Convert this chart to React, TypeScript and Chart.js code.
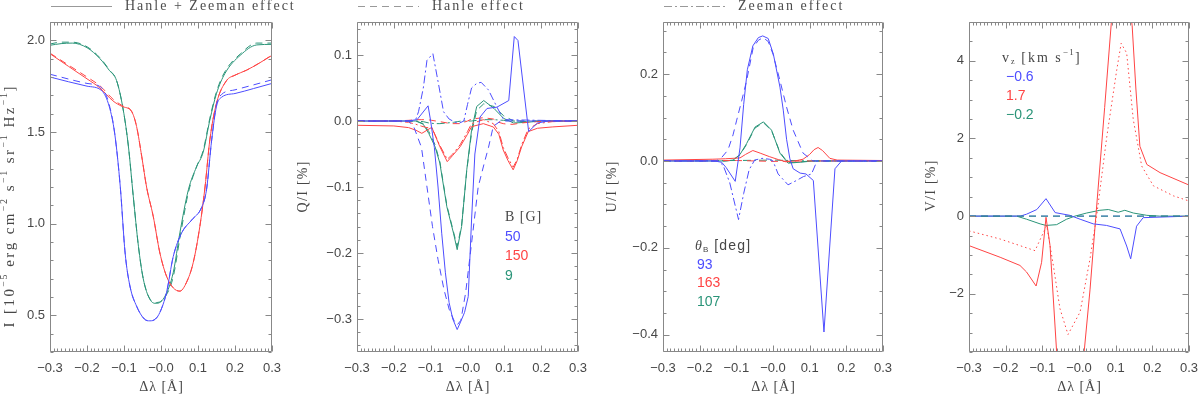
import { useEffect, useRef } from 'react';
import { Chart, registerables } from 'chart.js';

Chart.register(...registerables);

// ---------- common axis data ----------
const X_TICKS = [-0.3, -0.2, -0.1, 0, 0.1, 0.2, 0.3];
const X_TICK_LABELS = ['−0.3', '−0.2', '−0.1', '−0.0', '0.1', '0.2', '0.3'];

const I_TICKS = [0.5, 1.0, 1.5, 2.0];
const I_TICK_LABELS = ['0.5', '1.0', '1.5', '2.0'];
const Q_TICKS = [-0.3, -0.2, -0.1, 0, 0.1];
const Q_TICK_LABELS = ['−0.3', '−0.2', '−0.1', '0.0', '0.1'];
const U_TICKS = [-0.4, -0.2, 0, 0.2];
const U_TICK_LABELS = ['−0.4', '−0.2', '0.0', '0.2'];
const V_TICKS = [-2, 0, 2, 4];
const V_TICK_LABELS = ['−2', '0', '2', '4'];

// ---------- Panel 1: I ----------
const I_BLUE_X = [-0.30, -0.20, -0.16, -0.14, -0.125, -0.11, -0.097, -0.084, -0.066, -0.045, -0.03, -0.015, -0.003, 0.015, 0.033, 0.056, 0.083, 0.11, 0.123, 0.137, 0.15, 0.164, 0.20, 0.25, 0.30];
const I_BLUE_SOLID = [1.80, 1.75, 1.725, 1.64, 1.49, 1.20, 0.84, 0.66, 0.55, 0.48, 0.47, 0.48, 0.516, 0.625, 0.82, 0.95, 1.02, 1.09, 1.185, 1.457, 1.64, 1.69, 1.71, 1.737, 1.765];
const I_BLUE_DASH = [1.815, 1.765, 1.74, 1.65, 1.49, 1.20, 0.84, 0.66, 0.55, 0.48, 0.47, 0.48, 0.516, 0.625, 0.82, 0.95, 1.02, 1.09, 1.185, 1.457, 1.65, 1.705, 1.73, 1.757, 1.785];

const I_RED_X = [-0.30, -0.25, -0.20, -0.165, -0.13, -0.106, -0.079, -0.066, -0.052, -0.039, -0.021, -0.003, 0.015, 0.033, 0.051, 0.069, 0.087, 0.105, 0.119, 0.132, 0.15, 0.177, 0.20, 0.231, 0.265, 0.30];
const I_RED_SOLID = [1.927, 1.858, 1.79, 1.74, 1.67, 1.64, 1.61, 1.53, 1.366, 1.20, 1.04, 0.84, 0.713, 0.65, 0.632, 0.68, 0.787, 0.985, 1.20, 1.457, 1.657, 1.78, 1.81, 1.837, 1.875, 1.918];
const I_RED_DASH = [1.93, 1.865, 1.80, 1.752, 1.68, 1.645, 1.612, 1.53, 1.366, 1.20, 1.04, 0.84, 0.713, 0.65, 0.632, 0.68, 0.787, 0.985, 1.20, 1.457, 1.657, 1.78, 1.81, 1.837, 1.875, 1.92];

const I_GREEN_X = [-0.30, -0.27, -0.24, -0.20, -0.165, -0.14, -0.12, -0.102, -0.088, -0.075, -0.061, -0.048, -0.03, -0.012, 0.011, 0.033, 0.051, 0.074, 0.096, 0.114, 0.132, 0.15, 0.173, 0.214, 0.259, 0.30];
const I_GREEN_SOLID = [1.973, 1.982, 1.985, 1.96, 1.90, 1.837, 1.78, 1.62, 1.42, 1.15, 0.877, 0.70, 0.587, 0.565, 0.605, 0.733, 0.95, 1.185, 1.31, 1.39, 1.565, 1.71, 1.82, 1.918, 1.975, 1.978];
const I_GREEN_DASH = [1.98, 1.99, 1.99, 1.965, 1.905, 1.84, 1.78, 1.62, 1.42, 1.15, 0.877, 0.70, 0.59, 0.57, 0.60, 0.71, 0.92, 1.17, 1.31, 1.40, 1.575, 1.72, 1.83, 1.925, 1.985, 1.985];

// ---------- Panel 2: Q/I ----------
const Q_BLUE_SOLID_X = [-0.30, -0.165, -0.137, -0.107, -0.10, -0.09, -0.08, -0.07, -0.06, -0.05, -0.04, -0.028, -0.02, -0.008, 0.002, 0.011, 0.02, 0.034, 0.053, 0.08, 0.112, 0.127, 0.137, 0.166, 0.19, 0.22, 0.30];
const Q_BLUE_SOLID = [0, 0, 0.002, 0.023, 0.0, -0.04, -0.10, -0.17, -0.23, -0.275, -0.30, -0.316, -0.306, -0.29, -0.266, -0.15, -0.05, 0.006, 0.019, 0.021, 0.031, 0.128, 0.122, -0.016, -0.003, 0, 0];
const Q_BLUE_DASH_X = [-0.30, -0.16, -0.145, -0.125, -0.11, -0.095, -0.08, -0.064, -0.05, -0.036, -0.028, -0.018, -0.005, 0.01, 0.029, 0.045, 0.057, 0.07, 0.09, 0.30];
const Q_BLUE_DASH = [0, 0, -0.01, -0.04, -0.10, -0.16, -0.21, -0.255, -0.285, -0.303, -0.309, -0.302, -0.26, -0.19, -0.10, -0.065, -0.04, -0.008, 0, 0];
const Q_BLUE_DOT_X = [-0.30, -0.15, -0.14, -0.133, -0.12, -0.11, -0.094, -0.08, -0.065, -0.05, -0.04, -0.025, -0.01, 0.0, 0.011, 0.025, 0.037, 0.057, 0.08, 0.098, 0.30];
const Q_BLUE_DOT = [0, 0, 0.003, 0.014, 0.05, 0.092, 0.102, 0.06, 0.014, 0.003, 0, -0.004, 0, 0.025, 0.05, 0.057, 0.0586, 0.047, 0.021, 0.002, 0];

const Q_RED_X = [-0.30, -0.20, -0.16, -0.14, -0.124, -0.11, -0.097, -0.075, -0.055, -0.04, -0.02, 0.0, 0.011, 0.043, 0.07, 0.085, 0.097, 0.11, 0.124, 0.135, 0.147, 0.165, 0.19, 0.23, 0.30];
const Q_RED_SOLID = [-0.0065, -0.0075, -0.01, -0.014, -0.0187, -0.014, -0.0096, -0.039, -0.0616, -0.052, -0.039, -0.02, -0.0086, -0.004, -0.009, -0.02, -0.044, -0.06, -0.074, -0.06, -0.039, -0.016, -0.011, -0.009, -0.0065];
const Q_RED_DASH = [0, 0, 0.001, 0.002, 0.002, 0.002, 0.001, -0.001, -0.003, -0.004, -0.004, 0.0, 0.003, 0.005, 0.003, -0.002, -0.004, -0.005, -0.005, -0.004, -0.003, -0.002, -0.001, 0, 0];
const Q_RED_DOT = [0, 0, -0.002, -0.005, -0.008, -0.01, -0.01, -0.037, -0.058, -0.05, -0.036, -0.016, -0.004, 0.002, -0.004, -0.016, -0.04, -0.056, -0.07, -0.058, -0.036, -0.012, -0.004, -0.001, 0];

const Q_GREEN_X = [-0.30, -0.14, -0.12, -0.105, -0.088, -0.075, -0.056, -0.038, -0.028, -0.016, -0.002, 0.011, 0.025, 0.044, 0.072, 0.098, 0.125, 0.16, 0.20, 0.30];
const Q_GREEN_SOLID = [0, 0, -0.005, -0.019, -0.039, -0.064, -0.13, -0.17, -0.195, -0.16, -0.074, -0.014, 0.022, 0.031, 0.019, 0.004, -0.003, -0.002, 0, 0];
const Q_GREEN_DASH = [0, 0, -0.004, -0.016, -0.036, -0.062, -0.128, -0.168, -0.19, -0.158, -0.075, -0.018, 0.016, 0.026, 0.022, 0.008, 0.0, -0.001, 0, 0];
const Q_GREEN_DOT = [0, 0, -0.001, -0.003, -0.004, -0.004, -0.003, -0.002, -0.001, 0.0, 0.0, 0.0, 0.001, 0.002, 0.002, 0.001, 0.0, 0, 0, 0];

// ---------- Panel 3: U/I ----------
const U_BLUE_SOLID_X = [-0.30, -0.16, -0.14, -0.128, -0.103, -0.09, -0.08, -0.07, -0.055, -0.04, -0.028, -0.013, 0.001, 0.019, 0.028, 0.037, 0.046, 0.055, 0.074, 0.09, 0.11, 0.139, 0.169, 0.187, 0.30];
const U_BLUE_SOLID = [0, 0, -0.003, -0.015, -0.047, 0.03, 0.13, 0.21, 0.265, 0.284, 0.288, 0.282, 0.246, 0.17, 0.117, 0.05, 0.005, -0.018, -0.028, -0.03, -0.045, -0.394, -0.018, 0, 0];
const U_BLUE_DASH_X = [-0.30, -0.155, -0.14, -0.123, -0.109, -0.099, -0.085, -0.072, -0.054, -0.04, -0.027, -0.013, 0.0, 0.019, 0.037, 0.055, 0.082, 0.109, 0.30];
const U_BLUE_DASH = [0, 0, 0.008, 0.025, 0.06, 0.094, 0.14, 0.185, 0.261, 0.278, 0.284, 0.275, 0.246, 0.185, 0.124, 0.071, 0.018, 0, 0];
const U_BLUE_DOT_X = [-0.30, -0.15, -0.136, -0.118, -0.094, -0.08, -0.065, -0.05, -0.03, -0.01, 0.0, 0.014, 0.041, 0.064, 0.083, 0.105, 0.12, 0.30];
const U_BLUE_DOT = [0, 0, -0.01, -0.05, -0.135, -0.075, -0.02, 0.002, 0.006, 0.004, 0.0, -0.03, -0.055, -0.045, -0.036, -0.03, 0, 0];

const U_RED_X = [-0.30, -0.164, -0.13, -0.109, -0.09, -0.075, -0.055, -0.035, -0.01, 0.015, 0.035, 0.06, 0.082, 0.1, 0.112, 0.123, 0.135, 0.155, 0.175, 0.30];
const U_RED_SOLID = [0.002, 0.004, 0.005, 0.006, 0.007, 0.015, 0.024, 0.018, 0.01, 0.003, -0.002, 0.0, 0.004, 0.015, 0.026, 0.031, 0.024, 0.006, 0.002, 0.001];
const U_FLAT_X = [-0.30, -0.10, 0.0, 0.10, 0.30];
const U_RED_DASH = [0, 0.001, -0.001, 0.0, 0];
const U_GREEN_DOT = [0, 0.001, 0.002, 0.0, 0];

const U_GREEN_X = [-0.30, -0.13, -0.109, -0.09, -0.072, -0.049, -0.026, -0.004, 0.019, 0.041, 0.074, 0.11, 0.30];
const U_GREEN_SOLID = [0, 0, 0.002, 0.015, 0.04, 0.078, 0.09, 0.071, 0.018, -0.005, -0.003, 0, 0];
const U_GREEN_DASH = [0, 0, 0.002, 0.014, 0.038, 0.076, 0.088, 0.07, 0.02, -0.004, -0.002, 0, 0];

// ---------- Panel 4: V/I ----------
const V_RED_SOLID_X = [-0.30, -0.215, -0.161, -0.143, -0.117, -0.102, -0.09, -0.079, -0.061, -0.045, -0.03, -0.01, 0.01, 0.03, 0.046, 0.07, 0.09, 0.11, 0.13, 0.145, 0.155, 0.166, 0.185, 0.221, 0.30];
const V_RED_SOLID = [-0.76, -1.06, -1.27, -1.44, -1.8, -1.19, -0.03, -0.76, -3.5, -5.2, -6.0, -5.2, -3.9, -1.9, 0.0, 2.8, 5.2, 7.0, 6.0, 4.9, 3.3, 1.8, 1.33, 1.12, 0.80];
const V_RED_DOT_X = [-0.30, -0.215, -0.161, -0.12, -0.097, -0.088, -0.07, -0.052, -0.03, 0.003, 0.03, 0.048, 0.076, 0.103, 0.115, 0.13, 0.148, 0.171, 0.203, 0.258, 0.30];
const V_RED_DOT = [-0.38, -0.59, -0.76, -0.89, -0.42, -0.25, -1.27, -2.38, -3.05, -2.47, -1.1, 0.0, 2.06, 3.77, 4.45, 4.2, 2.49, 1.29, 0.78, 0.52, 0.39];
const V_BLUE_SOLID_X = [-0.30, -0.16, -0.143, -0.115, -0.09, -0.065, -0.025, 0.003, 0.039, 0.075, 0.112, 0.13, 0.141, 0.157, 0.175, 0.30];
const V_BLUE_SOLID = [0, 0, 0.05, 0.17, 0.45, 0.09, 0.02, -0.08, -0.2, -0.24, -0.33, -0.77, -1.1, -0.26, -0.04, 0];
const V_GREEN_SOLID_X = [-0.30, -0.17, -0.143, -0.106, -0.09, -0.061, -0.034, -0.011, 0.021, 0.057, 0.08, 0.107, 0.125, 0.148, 0.185, 0.22, 0.30];
const V_GREEN_SOLID = [0, 0, -0.08, -0.2, -0.24, -0.22, -0.08, 0, 0.08, 0.15, 0.17, 0.1, 0.15, 0.08, 0.02, 0, 0];
const V_ZERO_X = [-0.30, 0.30];
const V_ZERO = [0, 0];

// ---------- legend texts ----------
const HEADER_TEXTS = ['Hanle + Zeeman effect', 'Hanle effect', 'Zeeman effect'];
const B_VALUES = ['50', '150', '9'];
const THETA_VALUES = ['93', '163', '107'];
const VZ_VALUES = ['−0.6', '1.7', '−0.2'];

// ---------- styles ----------
const BLUE = '#4d4dff';
const RED = '#ff4444';
const GREEN = '#2a9478';
const FRAME = '#888888';
const TEXT = '#474747';
const SERIF = '"Liberation Serif", "DejaVu Serif", serif';
const SANS = '"Liberation Sans", "DejaVu Sans", sans-serif';
const SOLID: number[] = [];
const DASHED = [7, 5];
const DASHDOT = [8, 3, 2, 3];
const DOTTED = [1.5, 3];
const TOP = 22;
const BOTTOM = 352;
const YW = 40;

type Seg = { t: string; f?: string; s?: number; dy?: number; it?: boolean };

function drawRich(ctx: any, segs: Seg[], x: number, y: number, o: { size: number; family: string; color: string; spacing: number; align: 'left' | 'center' }) {
  ctx.save();
  ctx.fillStyle = o.color;
  ctx.textBaseline = 'middle';
  ctx.textAlign = 'left';
  const fonts = segs.map((s) => `${s.it ? 'italic ' : ''}${Math.round((s.s ?? 1) * o.size)}px ${s.f ?? o.family}`);
  let w = 0;
  segs.forEach((s, i) => {
    ctx.font = fonts[i];
    for (const ch of s.t) w += ctx.measureText(ch).width + o.spacing * (s.s ?? 1);
  });
  w -= o.spacing;
  let cx = o.align === 'center' ? x - w / 2 : x;
  segs.forEach((s, i) => {
    ctx.font = fonts[i];
    for (const ch of s.t) {
      ctx.fillText(ch, cx, y + (s.dy ?? 0) * o.size);
      cx += ctx.measureText(ch).width + o.spacing * (s.s ?? 1);
    }
  });
  ctx.restore();
}

const sup = (t: string): Seg => ({ t, s: 0.65, dy: -0.4 });
const sub = (t: string, f?: string): Seg => ({ t, s: 0.6, dy: 0.3, f });

const idlPlugin = {
  id: 'idl',
  afterDatasetsDraw(chart: any) {
    const p = chart.options.plugins.idl;
    if (!p) return;
    const { ctx, chartArea: a, scales } = chart;
    const xs = scales.x;
    const ys = scales.y;
    ctx.save();
    ctx.strokeStyle = FRAME;
    ctx.lineWidth = 1;
    ctx.setLineDash([]);
    const L = Math.round(a.left) + 0.5;
    const R = Math.round(a.right) - 0.5;
    const T = Math.round(a.top) + 0.5;
    const B = Math.round(a.bottom) - 0.5;
    ctx.beginPath();
    ctx.rect(L, T, R - L, B - T);
    const nx = Math.round((xs.max - xs.min) / p.xMinor);
    for (let i = 0; i <= nx; i++) {
      const v = xs.min + i * p.xMinor;
      const major = X_TICKS.some((t) => Math.abs(t - v) < 1e-6);
      const len = major ? 6 : 3;
      const px = Math.round(xs.getPixelForValue(v)) + 0.5;
      ctx.moveTo(px, B); ctx.lineTo(px, B - len);
      ctx.moveTo(px, T); ctx.lineTo(px, T + len);
    }
    const k0 = Math.ceil(ys.min / p.yMinor - 1e-6);
    const k1 = Math.floor(ys.max / p.yMinor + 1e-6);
    for (let k = k0; k <= k1; k++) {
      const v = k * p.yMinor;
      const major = p.yTicks.some((t: number) => Math.abs(t - v) < 1e-6);
      const len = major ? 6 : 3;
      const py = Math.round(ys.getPixelForValue(v)) + 0.5;
      ctx.moveTo(L, py); ctx.lineTo(L + len, py);
      ctx.moveTo(R, py); ctx.lineTo(R - len, py);
    }
    ctx.stroke();

    // header legend entry
    const h = p.header;
    if (h) {
      ctx.strokeStyle = '#999999';
      ctx.setLineDash(h.dash);
      ctx.beginPath();
      ctx.moveTo(a.left + 1, 6.5);
      ctx.lineTo(a.left + 62, 6.5);
      ctx.stroke();
      ctx.setLineDash([]);
      drawRich(ctx, [{ t: h.text }], a.left + 75, 6, { size: 14, family: SERIF, color: '#4d4d4d', spacing: 2.0, align: 'left' });
    }

    // y title (rotated)
    ctx.save();
    ctx.translate(p.yTitle.x, p.yTitle.y);
    ctx.rotate(-Math.PI / 2);
    drawRich(ctx, p.yTitle.segs, 0, 0, { size: p.yTitle.size, family: SERIF, color: TEXT, spacing: p.yTitle.spacing, align: 'center' });
    ctx.restore();

    // x title
    drawRich(ctx, [{ t: 'Δλ [Å]' }], (a.left + a.right) / 2, 387, { size: 14, family: SERIF, color: TEXT, spacing: 1, align: 'center' });

    // inner legend
    const lg = p.legend;
    if (lg) {
      drawRich(ctx, lg.title, lg.x, lg.y, { size: 14, family: lg.titleFamily, color: TEXT, spacing: lg.titleSpacing, align: 'left' });
      lg.items.forEach((it: string, i: number) => {
        drawRich(ctx, [{ t: it }], lg.ix, lg.y + lg.gap * (i + 1), { size: 14, family: SANS, color: lg.colors[i], spacing: 0, align: 'left' });
      });
    }
    ctx.restore();
  },
};

type LineSpec = { xs: number[]; ys: number[]; color: string; dash: number[]; smooth?: boolean };

const PANELS = [
  {
    left: 50, right: 272, yMin: 0.3, yMax: 2.1, yTicks: I_TICKS, yLabels: I_TICK_LABELS, yMinor: 0.1,
    header: { dash: SOLID, text: HEADER_TEXTS[0] },
    yTitle: { x: 10, y: 207, size: 15, spacing: 2.4, segs: [{ t: 'I [10' }, sup('−5'), { t: ' erg cm' }, sup('−2'), { t: ' s' }, sup('−1'), { t: ' sr' }, sup('−1'), { t: ' Hz' }, sup('−1'), { t: ']' }] as Seg[] },
    legend: null as any,
    lines: [
      { xs: I_BLUE_X, ys: I_BLUE_SOLID, color: BLUE, dash: SOLID, smooth: true },
      { xs: I_BLUE_X, ys: I_BLUE_DASH, color: BLUE, dash: DASHED, smooth: true },
      { xs: I_RED_X, ys: I_RED_SOLID, color: RED, dash: SOLID, smooth: true },
      { xs: I_RED_X, ys: I_RED_DASH, color: RED, dash: DASHED, smooth: true },
      { xs: I_GREEN_X, ys: I_GREEN_SOLID, color: GREEN, dash: SOLID, smooth: true },
      { xs: I_GREEN_X, ys: I_GREEN_DASH, color: GREEN, dash: DASHED, smooth: true },
    ] as LineSpec[],
  },
  {
    left: 357, right: 578, yMin: -0.35, yMax: 0.15, yTicks: Q_TICKS, yLabels: Q_TICK_LABELS, yMinor: 0.02,
    header: { dash: DASHED, text: HEADER_TEXTS[1] },
    yTitle: { x: 303, y: 187, size: 14, spacing: 1.3, segs: [{ t: 'Q/I [%]' }] as Seg[] },
    legend: { title: [{ t: 'B [G]' }] as Seg[], x: 505, y: 217, ix: 505, gap: 19.7, items: B_VALUES, colors: [BLUE, RED, GREEN], titleFamily: SERIF, titleSpacing: 1 },
    lines: [
      { xs: Q_BLUE_SOLID_X, ys: Q_BLUE_SOLID, color: BLUE, dash: SOLID },
      { xs: Q_BLUE_DASH_X, ys: Q_BLUE_DASH, color: BLUE, dash: DASHED },
      { xs: Q_BLUE_DOT_X, ys: Q_BLUE_DOT, color: BLUE, dash: DASHDOT },
      { xs: Q_RED_X, ys: Q_RED_SOLID, color: RED, dash: SOLID },
      { xs: Q_RED_X, ys: Q_RED_DASH, color: RED, dash: DASHED },
      { xs: Q_RED_X, ys: Q_RED_DOT, color: RED, dash: DASHDOT },
      { xs: Q_GREEN_X, ys: Q_GREEN_SOLID, color: GREEN, dash: SOLID },
      { xs: Q_GREEN_X, ys: Q_GREEN_DASH, color: GREEN, dash: DASHED },
      { xs: Q_GREEN_X, ys: Q_GREEN_DOT, color: GREEN, dash: DASHDOT },
    ] as LineSpec[],
  },
  {
    left: 663, right: 883, yMin: -0.44, yMax: 0.32, yTicks: U_TICKS, yLabels: U_TICK_LABELS, yMinor: 0.05,
    header: { dash: DASHDOT, text: HEADER_TEXTS[2] },
    yTitle: { x: 612, y: 187, size: 14, spacing: 1.3, segs: [{ t: 'U/I [%]' }] as Seg[] },
    legend: { title: [{ t: 'θ', it: true, f: SERIF }, sub('B', SANS), { t: ' [deg]' }] as Seg[], x: 695, y: 246, ix: 697, gap: 18.7, items: THETA_VALUES, colors: [BLUE, RED, GREEN], titleFamily: SANS, titleSpacing: 1.2 },
    lines: [
      { xs: U_BLUE_SOLID_X, ys: U_BLUE_SOLID, color: BLUE, dash: SOLID },
      { xs: U_BLUE_DASH_X, ys: U_BLUE_DASH, color: BLUE, dash: DASHED },
      { xs: U_BLUE_DOT_X, ys: U_BLUE_DOT, color: BLUE, dash: DASHDOT },
      { xs: U_RED_X, ys: U_RED_SOLID, color: RED, dash: SOLID },
      { xs: U_FLAT_X, ys: U_RED_DASH, color: RED, dash: DASHED },
      { xs: U_GREEN_X, ys: U_GREEN_SOLID, color: GREEN, dash: SOLID },
      { xs: U_GREEN_X, ys: U_GREEN_DASH, color: GREEN, dash: DASHED },
      { xs: U_FLAT_X, ys: U_GREEN_DOT, color: GREEN, dash: DASHDOT },
    ] as LineSpec[],
  },
  {
    left: 969, right: 1189, yMin: -3.5, yMax: 5, yTicks: V_TICKS, yLabels: V_TICK_LABELS, yMinor: 0.5,
    header: null as any,
    yTitle: { x: 931, y: 186, size: 14, spacing: 1.3, segs: [{ t: 'V/I [%]' }] as Seg[] },
    legend: { title: [{ t: 'v' }, sub('z'), { t: ' [km s' }, sup('−1'), { t: ']' }] as Seg[], x: 1002, y: 58, ix: 1006, gap: 19, items: VZ_VALUES, colors: [BLUE, RED, GREEN], titleFamily: SERIF, titleSpacing: 2 },
    lines: [
      { xs: V_ZERO_X, ys: V_ZERO, color: GREEN, dash: DASHED },
      { xs: V_BLUE_SOLID_X, ys: V_BLUE_SOLID, color: BLUE, dash: SOLID },
      { xs: V_RED_SOLID_X, ys: V_RED_SOLID, color: RED, dash: SOLID },
      { xs: V_RED_DOT_X, ys: V_RED_DOT, color: RED, dash: DOTTED },
      { xs: V_GREEN_SOLID_X, ys: V_GREEN_SOLID, color: GREEN, dash: SOLID },
      { xs: V_ZERO_X, ys: V_ZERO, color: BLUE, dash: DASHED },
    ] as LineSpec[],
  },
];

function makeConfig(p: any): any {
  return {
    type: 'line',
    data: {
      datasets: p.lines.map((l: LineSpec) => ({
        data: l.xs.map((x, i) => ({ x, y: l.ys[i] })),
        borderColor: l.color,
        borderWidth: 1,
        borderDash: l.dash,
        pointRadius: 0,
        fill: false,
        tension: 0,
        cubicInterpolationMode: l.smooth ? 'monotone' : 'default',
      })),
    },
    options: {
      responsive: false,
      animation: false,
      devicePixelRatio: 1,
      events: [],
      layout: { padding: { left: p.left - YW, right: 1200 - p.right, top: TOP, bottom: 0 } },
      plugins: {
        legend: { display: false },
        tooltip: { enabled: false },
        idl: {
          xMinor: 0.01,
          yMinor: p.yMinor,
          yTicks: p.yTicks,
          header: p.header,
          yTitle: p.yTitle,
          legend: p.legend,
        },
      },
      scales: {
        x: {
          type: 'linear',
          min: -0.3,
          max: 0.3,
          grid: { display: false, drawTicks: false },
          border: { display: false },
          afterBuildTicks: (s: any) => { s.ticks = X_TICKS.map((v) => ({ value: v })); },
          afterFit: (s: any) => { s.height = 394 - BOTTOM; s.paddingLeft = 0; s.paddingRight = 0; },
          ticks: {
            callback: (_v: any, i: number) => X_TICK_LABELS[i],
            font: { family: SANS, size: 13 },
            color: TEXT,
            padding: 9,
            maxRotation: 0,
            autoSkip: false,
          },
        },
        y: {
          type: 'linear',
          min: p.yMin,
          max: p.yMax,
          grid: { display: false, drawTicks: false },
          border: { display: false },
          afterBuildTicks: (s: any) => { s.ticks = p.yTicks.map((v: number) => ({ value: v })); },
          afterFit: (s: any) => { s.width = YW; s.paddingTop = 0; s.paddingBottom = 0; },
          ticks: {
            callback: (_v: any, i: number) => p.yLabels[i],
            font: { family: SANS, size: 13 },
            color: TEXT,
            padding: 5,
            autoSkip: false,
          },
        },
      },
    },
    plugins: [idlPlugin],
  };
}

export default function App() {
  const refs = useRef<(HTMLCanvasElement | null)[]>([]);
  useEffect(() => {
    const charts = PANELS.map((p, i) => new Chart(refs.current[i] as HTMLCanvasElement, makeConfig(p)));
    return () => charts.forEach((c) => c.destroy());
  }, []);
  return (
    <div style={{ position: 'fixed', left: 0, top: 0, width: 1200, height: 394, background: '#ffffff', overflow: 'hidden' }}>
      {PANELS.map((_p, i) => (
        <canvas
          key={i}
          ref={(el) => { refs.current[i] = el; }}
          width={1200}
          height={394}
          style={{ position: 'absolute', left: 0, top: 0, width: 1200, height: 394 }}
        />
      ))}
    </div>
  );
}
